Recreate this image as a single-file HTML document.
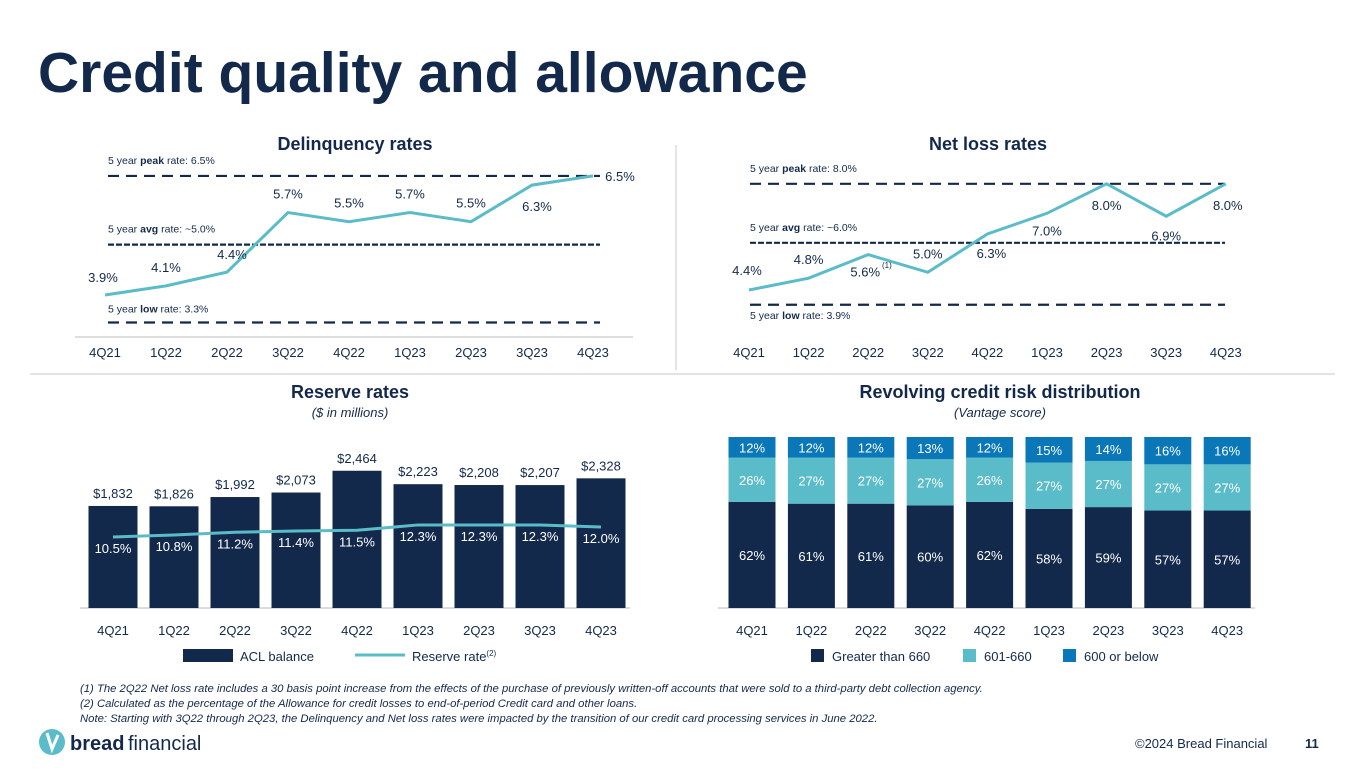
<!DOCTYPE html>
<html><head><meta charset="utf-8">
<style>
body{margin:0;background:#fff;font-family:"Liberation Sans",Arial,sans-serif;}
svg text{font-family:"Liberation Sans",Arial,sans-serif;}
</style></head>
<body>
<svg id="page" width="1365" height="768" viewBox="0 0 1365 768" xmlns="http://www.w3.org/2000/svg">
<text x="38" y="92" font-size="57" font-weight="bold" fill="#13294b">Credit quality and allowance</text>
<line x1="676" y1="145" x2="676" y2="370" stroke="#c8c8c8"/>
<line x1="30" y1="374" x2="1335" y2="374" stroke="#c8c8c8"/>
<text x="355" y="150" font-size="18" font-weight="bold" fill="#13294b" text-anchor="middle">Delinquency rates</text>
<text x="988" y="150" font-size="18" font-weight="bold" fill="#13294b" text-anchor="middle">Net loss rates</text>
<text x="350" y="398" font-size="18" font-weight="bold" fill="#13294b" text-anchor="middle">Reserve rates</text>
<text x="350" y="417" font-size="13" font-style="italic" fill="#13294b" text-anchor="middle">($ in millions)</text>
<text x="1000" y="398" font-size="18" font-weight="bold" fill="#13294b" text-anchor="middle">Revolving credit risk distribution</text>
<text x="1000" y="417" font-size="13" font-style="italic" fill="#13294b" text-anchor="middle">(Vantage score)</text>
<g id="dq"></g>
<g id="nl"></g>
<g id="rr"></g>
<g id="rv"></g>
<g font-size="11.3" font-style="italic" fill="#13294b">
<text x="80" y="692">(1) The 2Q22 Net loss rate includes a 30 basis point increase from the effects of the purchase of previously written-off accounts that were sold to a third-party debt collection agency.</text>
<text x="80" y="707">(2) Calculated as the percentage of the Allowance for credit losses to end-of-period Credit card and other loans.</text>
<text x="80" y="722">Note: Starting with 3Q22 through 2Q23, the Delinquency and Net loss rates were impacted by the transition of our credit card processing services in June 2022.</text>
</g>
<g>
<circle cx="52" cy="742" r="13" fill="#5bbcc9"/>
<path d="M47 733 L52 749 L58 735" stroke="#fff" stroke-width="3" fill="none"/>
<text x="70" y="750" font-size="20" font-weight="bold" fill="#13294b">bread</text>
<text x="128" y="750" font-size="20" fill="#13294b">financial</text>
</g>
<text x="1135" y="748" font-size="13" fill="#13294b">©2024 Bread Financial</text>
<text x="1305" y="748" font-size="13" font-weight="bold" fill="#13294b">11</text>
</svg>
<script>
const quarters=["4Q21","1Q22","2Q22","3Q22","4Q22","1Q23","2Q23","3Q23","4Q23"];
const delinquency=[3.9,4.1,4.4,5.7,5.5,5.7,5.5,6.3,6.5];
const dqRefs=[6.5,5.0,3.3];
const netLoss=[4.4,4.8,5.6,5.0,6.3,7.0,8.0,6.9,8.0];
const nlRefs=[8.0,6.0,3.9];
const aclBalance=[1832,1826,1992,2073,2464,2223,2208,2207,2328];
const reserveRate=[10.5,10.8,11.2,11.4,11.5,12.3,12.3,12.3,12.0];
const above660=[62,61,61,60,62,58,59,57,57];
const mid601=[26,27,27,27,26,27,27,27,27];
const below600=[12,12,12,13,12,15,14,16,16];

const NS="http://www.w3.org/2000/svg";
const NAVY="#13294b",TEAL="#5bbcc9",BLUE="#0a77b8";
function mk(parent,tag,attrs,text){const e=document.createElementNS(NS,tag);for(const k in attrs)e.setAttribute(k,attrs[k]);if(text!==undefined)e.textContent=text;parent.appendChild(e);return e;}

function lineChart(gid,data,refs,x0,dx,y0,v0,pxPer,dashX1,dashX2,lowBelow,showAxis,labelOffsets){
  const g=document.getElementById(gid);
  const X=i=>x0+i*dx, Y=v=>y0-(v-v0)*pxPer;
  if(showAxis) mk(g,"line",{x1:x0-30,y1:337,x2:x0+8*dx+40,y2:337,stroke:"#bbb"});
  quarters.forEach((q,i)=>{const t=mk(g,"text",{x:X(i),y:357,"font-size":13,fill:NAVY,"text-anchor":"middle"},q);
    
    });
  const names=["peak","avg","low"];
  refs.forEach((r,k)=>{const dash=k==1?"6,2":"11,7";
    const l=mk(g,"line",{x1:dashX1,y1:Y(r),x2:dashX2,y2:Y(r),stroke:"#13294b","stroke-width":2.2,"stroke-dasharray":dash});
    
    
    const ly=(k==2&&lowBelow)?Y(r)+14:(k==2?Y(r)-10:Y(r)-12);
    const t=mk(g,"text",{x:dashX1,y:ly,"font-size":10.5,fill:NAVY});
    mk(t,"tspan",{},"5 year ");mk(t,"tspan",{"font-weight":"bold"},names[k]);
    mk(t,"tspan",{},(k==1?" rate: ~":" rate: ")+r.toFixed(1)+"%");
    
    });
  const p=mk(g,"polyline",{points:data.map((v,i)=>X(i)+","+Y(v)).join(" "),fill:"none",stroke:TEAL,"stroke-width":3});
  
  
  data.forEach((v,i)=>{const o=labelOffsets[i];
    const t=mk(g,"text",{x:X(i)+o[0],y:Y(v)+o[1],"font-size":13,fill:NAVY,"text-anchor":"middle"},v.toFixed(1)+"%");
    
    });
}
lineChart("dq",delinquency,dqRefs,105,61,295,3.9,45.8,108,600,false,true,
 [[-2,-13],[0,-14],[5,-13],[0,-14],[0,-14],[0,-14],[0,-14],[5,26],[27,5]]);
lineChart("nl",netLoss,nlRefs,749,59.6,290,4.4,29.5,750,1225,true,false,
 [[-2,-15],[0,-14],[-3,22],[0,-14],[4,24],[0,22],[0,26],[0,24],[2,26]]);
(function(){const t=mk(document.getElementById("nl"),"text",{x:882,y:268,"font-size":8,fill:NAVY},"(1)");
 })();

(function(){
 const g=document.getElementById("rr");
 const X=i=>113+i*61, base=608, H=v=>v*0.0557, Yr=v=>537-(v-10.5)*6.7;
 mk(g,"line",{x1:80,y1:base,x2:630,y2:base,stroke:"#bbb"});
 aclBalance.forEach((v,i)=>{
  const r=mk(g,"rect",{x:X(i)-24.5,y:base-H(v),width:49,height:H(v),fill:NAVY});
  
  
  const t=mk(g,"text",{x:X(i),y:base-H(v)-8,"font-size":13,fill:NAVY,"text-anchor":"middle"},"$"+v.toLocaleString("en-US"));
  
  
  const q=mk(g,"text",{x:X(i),y:635,"font-size":13,fill:NAVY,"text-anchor":"middle"},quarters[i]);
  
  });
 const p=mk(g,"polyline",{points:reserveRate.map((v,i)=>X(i)+","+Yr(v)).join(" "),fill:"none",stroke:TEAL,"stroke-width":3});
 
 
 reserveRate.forEach((v,i)=>{const t=mk(g,"text",{x:X(i),y:Yr(v)+16,"font-size":13,fill:"#fff","text-anchor":"middle"},v.toFixed(1)+"%");
  
  });
 const l1=mk(g,"rect",{x:183,y:649,width:50,height:13,fill:NAVY});
 
 const lt1=mk(g,"text",{x:240,y:661,"font-size":13,fill:NAVY},"ACL balance");
 
 const l2=mk(g,"line",{x1:355,y1:655,x2:405,y2:655,stroke:TEAL,"stroke-width":3});
 
 const lt2=mk(g,"text",{x:412,y:661,"font-size":13,fill:NAVY});
 mk(lt2,"tspan",{},"Reserve rate");mk(lt2,"tspan",{"font-size":8,dy:-5},"(2)");
 
})();

(function(){
 const g=document.getElementById("rv");
 const X=i=>752+i*59.4, base=608;
 mk(g,"line",{x1:718,y1:base,x2:1255,y2:base,stroke:"#bbb"});
 const series=[[above660,NAVY,"above-660"],[mid601,TEAL,"601-660"],[below600,BLUE,"600-or-below"]];
 quarters.forEach((q,i)=>{
  const tot=above660[i]+mid601[i]+below600[i];let y=base;
  series.forEach(s=>{const v=s[0][i];const h=v/tot*171;y-=h;
   const r=mk(g,"rect",{x:X(i)-23.5,y:y,width:47,height:h,fill:s[1]});
   
   
   const t=mk(g,"text",{x:X(i),y:y+h/2+5,"font-size":13,fill:"#fff","text-anchor":"middle"},v+"%");
   
   });
  const t=mk(g,"text",{x:X(i),y:635,"font-size":13,fill:NAVY,"text-anchor":"middle"},q);
  
  });
 const leg=[[811,NAVY,"Greater than 660"],[963,TEAL,"601-660"],[1063,BLUE,"600 or below"]];
 leg.forEach(l=>{const r=mk(g,"rect",{x:l[0],y:649,width:13,height:13,fill:l[1]});
  
  const t=mk(g,"text",{x:l[0]+21,y:661,"font-size":13,fill:NAVY},l[2]);
  });
})();
</script>
</body></html>
